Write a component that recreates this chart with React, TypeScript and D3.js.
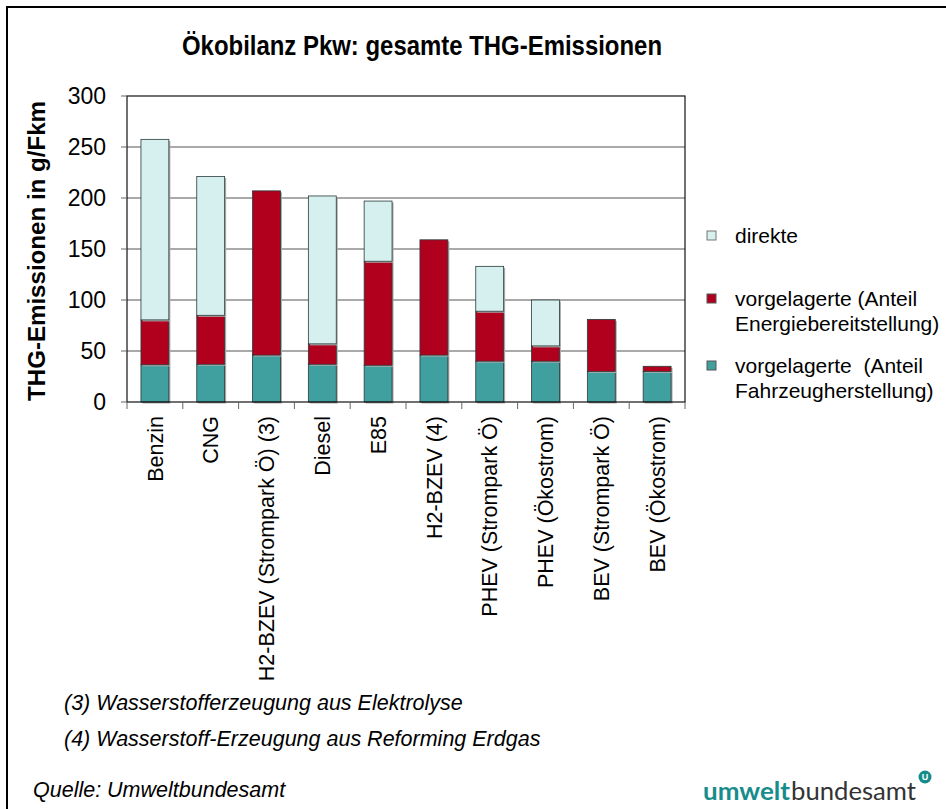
import React from 'react'
import * as d3 from 'd3'

const categories = [
  'Benzin',
  'CNG',
  'H2-BZEV (Strompark Ö) (3)',
  'Diesel',
  'E85',
  'H2-BZEV (4)',
  'PHEV (Strompark Ö)',
  'PHEV (Ökostrom)',
  'BEV (Strompark Ö)',
  'BEV (Ökostrom)',
]
// g/Fkm
const fahrzeug = [36.5, 37, 46, 37, 36, 46, 40, 40, 30, 30]
const energie = [44, 48, 161, 20, 102, 113, 49, 15, 51, 5]
const direkte = [177, 136, 0, 145, 59, 0, 44, 45, 0, 0]
const yTicks = [0, 50, 100, 150, 200, 250, 300]

const seriesKeys = ['fahrzeug', 'energie', 'direkte']
const colors: Record<string, string> = {
  fahrzeug: '#40A0A0',
  energie: '#B0001E',
  direkte: '#D6EFEF',
}

const FONT = 'Liberation Sans, Arial, sans-serif'

export default function App() {
  const left = 127, right = 685, top = 96, bottom = 402

  const x = d3.scaleBand().domain(categories).range([left, right]).paddingInner(0.5).paddingOuter(0.25)
  const y = d3.scaleLinear().domain([0, 300]).range([bottom, top])

  const rows = categories.map((c, i) => ({ cat: c, fahrzeug: fahrzeug[i], energie: energie[i], direkte: direkte[i] }))
  const stacked = d3.stack<any>().keys(seriesKeys)(rows)

  const step = x.step()
  const boundaries = d3.range(categories.length + 1).map(i => left + i * step)

  return (
    <svg width={946} height={809} style={{ position: 'absolute', left: 0, top: 0, background: '#fff' }} fontFamily={FONT}>
      {/* outer frame */}
      <path d="M7,809 L7,7 L946,7" fill="none" stroke="#000" strokeWidth={2} />

      <text x={182} y={55} fontSize={27} fontWeight="bold" textLength={480} lengthAdjust="spacingAndGlyphs">
        Ökobilanz Pkw: gesamte THG-Emissionen
      </text>

      {/* gridlines */}
      {yTicks.filter(t => t > 0 && t < 300).map(t => (
        <line key={t} x1={left} x2={right} y1={y(t)} y2={y(t)} stroke="#555" strokeWidth={1} />
      ))}

      {/* bars */}
      {stacked.map(s =>
        s.map((d, i) => {
          const h = y(d[0]) - y(d[1])
          if (h <= 0) return null
          const bx = x(categories[i])!
          return (
            <g key={s.key + i}>
              <rect x={bx + 1.5} y={y(d[1]) + 1.5} width={x.bandwidth()} height={h} fill="#aaa" />
              <rect x={bx} y={y(d[1])} width={x.bandwidth()} height={h} fill={colors[s.key]} stroke="#2a3a3a" strokeWidth={0.8} />
            </g>
          )
        })
      )}

      {/* plot border */}
      <rect x={left} y={top} width={right - left} height={bottom - top} fill="none" stroke="#111" strokeWidth={1.2} />

      {/* y axis */}
      {yTicks.map(t => (
        <g key={t}>
          <line x1={left - 6} x2={left} y1={y(t)} y2={y(t)} stroke="#666" />
          <text x={106} y={y(t)} dy="0.36em" textAnchor="end" fontSize={23}>{t}</text>
        </g>
      ))}

      <text transform={`translate(45,251) rotate(-90)`} textAnchor="middle" fontSize={24} fontWeight="bold" textLength={300} lengthAdjust="spacingAndGlyphs">
        THG-Emissionen in g/Fkm
      </text>

      {/* x axis */}
      {boundaries.map((bx, i) => (
        <line key={i} x1={bx} x2={bx} y1={bottom} y2={bottom + 7} stroke="#666" />
      ))}
      {categories.map(c => (
        <text key={c} transform={`translate(${x(c)! + x.bandwidth() / 2},416) rotate(-90)`} dy="0.36em" textAnchor="end" fontSize={21.5}>
          {c}
        </text>
      ))}

      {/* legend */}
      <g fontSize={21}>
        <rect x={707} y={231} width={9} height={9} fill={colors.direkte} stroke="#777" />
        <text x={735} y={243}>direkte</text>
        <rect x={707} y={294} width={9} height={9} fill={colors.energie} stroke="#555" />
        <text x={735} y={306}>vorgelagerte (Anteil</text>
        <text x={735} y={331}>Energiebereitstellung)</text>
        <rect x={707} y={361} width={9} height={9} fill={colors.fahrzeug} stroke="#555" />
        <text x={735} y={373} style={{ whiteSpace: 'pre' }}>{'vorgelagerte  (Anteil'}</text>
        <text x={735} y={398}>Fahrzeugherstellung)</text>
      </g>

      {/* footnotes */}
      <g fontSize={21.5} fontStyle="italic">
        <text x={64} y={710}>(3) Wasserstofferzeugung aus Elektrolyse</text>
        <text x={64} y={746}>(4) Wasserstoff-Erzeugung aus Reforming Erdgas</text>
      </g>
      <text x={33} y={797} fontSize={21.5} fontStyle="italic">Quelle: Umweltbundesamt</text>

      {/* logo */}
      <text x={703} y={800} fontSize={25} fontFamily="Lato, Open Sans, sans-serif" fontWeight="bold" fill="#178C8C" textLength={87} lengthAdjust="spacingAndGlyphs">umwelt</text>
      <text x={791} y={800} fontSize={25} fontFamily="Lato, Open Sans, sans-serif" fill="#333" textLength={125} lengthAdjust="spacingAndGlyphs">bundesamt</text>
      <circle cx={925} cy={777} r={6.5} fill="#178C8C" />
      <text x={925} y={777} dy="0.36em" textAnchor="middle" fontSize={9} fontWeight="bold" fill="#fff">U</text>
    </svg>
  )
}
